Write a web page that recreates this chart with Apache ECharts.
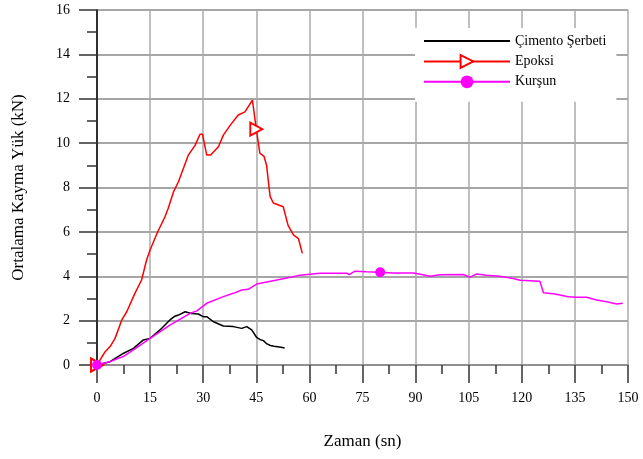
<!DOCTYPE html>
<html>
<head>
<meta charset="utf-8">
<script src="https://cdn.jsdelivr.net/npm/echarts@6/dist/echarts.min.js"></script>
<style>
  html, body { margin: 0; padding: 0; background: #fff; }
  #chart { width: 643px; height: 459px; }
</style>
</head>
<body>
<div id="chart"></div>
<script>
// Çimento Şerbeti (siyah)
var cimentoT = [0, 3.7, 7.4, 10.3, 13.1, 15, 17.8, 20.6, 22, 23, 24.9, 26.7, 28.6, 30, 31, 32.9, 35.7, 38.5, 40.9, 42.3, 43.7, 45.1, 46, 47, 48, 49, 50, 52, 53];
var cimentoV = [0, 0.15, 0.52, 0.75, 1.13, 1.2, 1.58, 2.03, 2.2, 2.25, 2.4, 2.32, 2.3, 2.18, 2.18, 1.95, 1.76, 1.73, 1.65, 1.73, 1.58, 1.24, 1.15, 1.1, 0.95, 0.88, 0.85, 0.8, 0.77];

// Epoksi (kırmızı)
var epoksiT = [0, 2.3, 3.7, 5.1, 7, 8.4, 10.7, 12.6, 14, 15, 17, 19.2, 20.1, 21.6, 23, 24.5, 25.8, 27.7, 29.1, 29.8, 31, 32.1, 34.3, 35.7, 37.6, 39.9, 41.8, 43.9, 45, 46, 47.2, 47.9, 48.9, 49.8, 52.6, 53.1, 54, 55.5, 56.9, 58];
var epoksiV = [0, 0.6, 0.83, 1.2, 2.03, 2.4, 3.23, 3.83, 4.73, 5.18, 5.95, 6.68, 7.05, 7.8, 8.26, 8.9, 9.46, 9.9, 10.4, 10.4, 9.46, 9.46, 9.84, 10.36, 10.8, 11.27, 11.41, 11.94, 10.63, 9.55, 9.4, 9.0, 7.6, 7.3, 7.13, 7.07, 6.28, 5.86, 5.7, 5.03];
var epoksiMarks = [0, 28];

// Kurşun (pembe)
var kursunT = [0, 3.7, 7.4, 10.3, 15, 20.6, 26.3, 28.1, 31, 35.7, 38.5, 40.9, 42.7, 45.1, 50.8, 55, 57.3, 63, 70.6, 71.2, 72.9, 76, 80, 83.6, 89.3, 91, 94.1, 96.9, 103.4, 105.4, 107.3, 110, 113.8, 117.6, 119.5, 125.1, 126.1, 129.4, 133.1, 135.5, 138.3, 141.1, 144, 146.8, 148.5];
var kursunV = [0, 0.15, 0.38, 0.68, 1.2, 1.8, 2.33, 2.43, 2.78, 3.08, 3.23, 3.38, 3.41, 3.65, 3.83, 3.97, 4.05, 4.14, 4.14, 4.07, 4.23, 4.2, 4.18, 4.15, 4.15, 4.1, 4.0, 4.07, 4.08, 3.96, 4.1, 4.05, 4.0, 3.9, 3.82, 3.78, 3.26, 3.2, 3.08, 3.05, 3.05, 2.93, 2.85, 2.75, 2.78];
var kursunMarks = [0, 22];

var seriesNames = ['Çimento Şerbeti', 'Epoksi', 'Kurşun'];

// nokta listesi; işaretsiz noktalarda sembol gizli
function points(t, v, marks) {
  var out = [];
  for (var i = 0; i < t.length; i++) {
    if (marks && marks.indexOf(i) >= 0) out.push({ value: [t[i], v[i]] });
    else out.push({ value: [t[i], v[i]], symbol: 'none' });
  }
  return out;
}

var font = '"Liberation Serif", "Times New Roman", serif';
var chart = echarts.init(document.getElementById('chart'));

chart.setOption({
  animation: false,
  backgroundColor: '#fff',
  textStyle: { fontFamily: font },
  grid: { left: 97, right: 15, top: 10, bottom: 94 },
  legend: {
    orient: 'vertical',
    left: 415,
    top: 28,
    width: 212,
    padding: [6, 10, 13, 8],
    backgroundColor: '#fff',
    itemWidth: 86,
    itemHeight: 16,
    itemGap: 6,
    textStyle: { fontFamily: font, fontSize: 14, color: '#000' },
    data: [
      // siyah çizgide sembol yok
      { name: seriesNames[0], itemStyle: { opacity: 0 } },
      seriesNames[1],
      seriesNames[2]
    ]
  },
  xAxis: {
    type: 'value',
    min: 0, max: 150, interval: 15,
    name: 'Zaman (sn)',
    nameLocation: 'middle',
    nameGap: 68,
    nameTextStyle: { fontFamily: font, fontSize: 17, color: '#000' },
    axisLine: { show: true, onZero: false, lineStyle: { color: '#888', width: 1.5 } },
    axisTick: { show: true, inside: false, length: 18, lineStyle: { color: '#333', width: 1.5 } },
    minorTick: { show: true, splitNumber: 2, length: 9, lineStyle: { color: '#333', width: 1.5 } },
    axisLabel: { margin: 26, fontFamily: font, fontSize: 14, color: '#000' },
    splitLine: { show: true, lineStyle: { color: '#aaa', width: 1.5 } }
  },
  yAxis: {
    type: 'value',
    min: 0, max: 16, interval: 2,
    name: 'Ortalama Kayma Yük (kN)',
    nameLocation: 'middle',
    nameGap: 70,
    nameTextStyle: { fontFamily: font, fontSize: 17, color: '#000' },
    axisLine: { show: true, lineStyle: { color: '#000', width: 1.5 } },
    axisTick: { show: true, inside: false, length: 18, lineStyle: { color: '#333', width: 1.5 } },
    minorTick: { show: true, splitNumber: 2, length: 10, lineStyle: { color: '#333', width: 1.5 } },
    axisLabel: { margin: 27, fontFamily: font, fontSize: 14, color: '#000' },
    splitLine: { show: true, lineStyle: { color: '#888', width: 1.5 } }
  },
  series: [
    {
      name: seriesNames[0],
      type: 'line',
      data: points(cimentoT, cimentoV, null),
      symbol: 'none',
      color: '#000',
      lineStyle: { color: '#000', width: 1.5 },
      z: 3
    },
    {
      name: seriesNames[1],
      type: 'line',
      data: points(epoksiT, epoksiV, epoksiMarks),
      symbol: 'emptyTriangle',
      symbolRotate: -90,
      symbolSize: [13, 12],
      showSymbol: true,
      color: '#ff0000',
      itemStyle: { color: '#ff0000', borderWidth: 1.5 },
      lineStyle: { color: '#ff0000', width: 1.5 },
      z: 4
    },
    {
      name: seriesNames[2],
      type: 'line',
      data: points(kursunT, kursunV, kursunMarks),
      symbol: 'circle',
      symbolSize: 10,
      showSymbol: true,
      color: '#ff00ff',
      itemStyle: { color: '#ff00ff' },
      lineStyle: { color: '#ff00ff', width: 1.5 },
      z: 5
    }
  ]
});
</script>
</body>
</html>
